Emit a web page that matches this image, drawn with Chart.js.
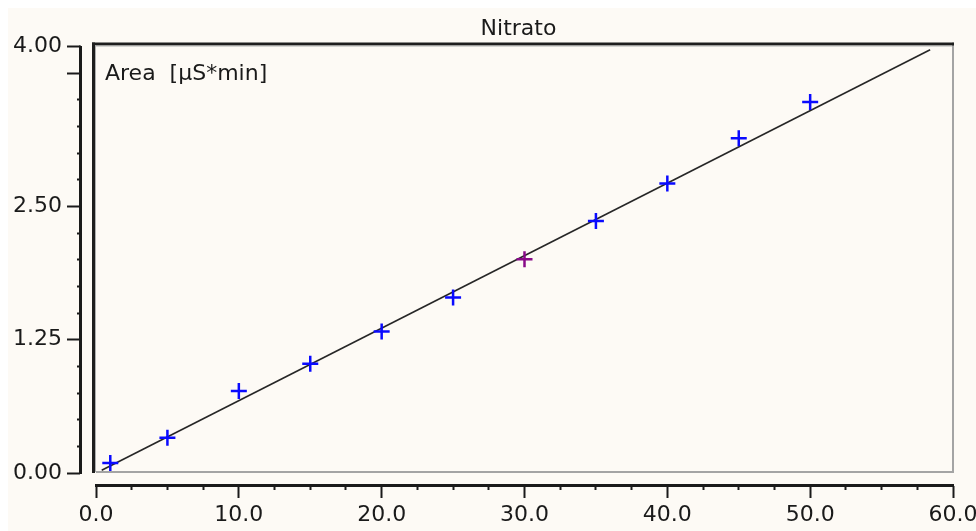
<!DOCTYPE html>
<html>
<head>
<meta charset="utf-8">
<script src="https://cdn.jsdelivr.net/npm/chart.js@4/dist/chart.umd.min.js"></script>
<style>
  html, body { margin: 0; padding: 0; background: #ffffff; }
  #c { display: block; }
</style>
</head>
<body>
<canvas id="c" width="976" height="531"></canvas>
<script>
// ---- chart content ----
const chartTitle = 'Nitrato';
const yAxisCaption = 'Area  [µS*min]';

// calibration standards (concentration) and measured peak area
const concentrations = [1, 5, 10, 15, 20, 25, 30, 35, 40, 45, 50];
const areas = [0.094, 0.330, 0.770, 1.025, 1.327, 1.647, 2.004, 2.363, 2.715, 3.140, 3.480];
const highlightedConcentration = 30;

// calibration (fit) line end points
const fitLineX = [0.4, 58.4];
const fitLineY = [0.025, 3.97];

// axes
const xRange = [0, 60];
const yRange = [0, 4];
const xMinorStep = 2.5;
const yMinorStep = 0.25;
const xLabelValues = [0, 10, 20, 30, 40, 50, 60];
const yLabelValues = [0, 1.25, 2.5, 4.0];
const yMajorValues = [0, 1.25, 2.5, 3.75, 4.0];

const has = (arr, v) => arr.some(a => Math.abs(a - v) < 1e-9);

const INK = '#1a1a1a';
const FONT = "'DejaVu Sans', sans-serif";

const framePlugin = {
  id: 'frame',
  beforeDraw(chart) {
    const { ctx, width, height } = chart;
    ctx.save();
    ctx.fillStyle = '#ffffff';
    ctx.fillRect(0, 0, width, height);
    ctx.fillStyle = '#fdfaf5';
    ctx.fillRect(8, 8, width - 8, height - 8);
    ctx.restore();
  },
  beforeDatasetsDraw(chart) {
    const { ctx, chartArea: a } = chart;
    ctx.save();
    // light (lower/right) edges of the sunken plot box
    ctx.fillStyle = '#a4a4a4';
    ctx.fillRect(a.right - 1, a.top - 4, 2, a.bottom - a.top + 4);
    ctx.fillRect(a.left, a.bottom - 2, a.right - a.left + 1, 2);
    // dark (upper/left) edges
    ctx.fillStyle = '#1e1e1e';
    ctx.fillRect(a.left - 4, a.top - 4, 3, a.bottom - a.top + 4);
    ctx.fillRect(a.left - 4, a.top - 4, a.right - a.left + 5, 3);
    ctx.fillStyle = '#b0b0b0';
    ctx.fillRect(a.left - 1, a.top - 1, a.right - a.left, 1);
    ctx.fillRect(a.left - 1, a.top - 1, 1, a.bottom - a.top);
    // axis lines (spine of the offset axes)
    const ys = chart.scales.y, xs = chart.scales.x;
    ctx.fillStyle = INK;
    ctx.fillRect(ys.right - 2, ys.top - 1, 2, ys.bottom - ys.top + 2);
    ctx.fillRect(xs.left - 1, xs.top, xs.right - xs.left + 2, 2);
    // title and axis caption
    ctx.fillStyle = INK;
    ctx.textBaseline = 'alphabetic';
    ctx.textAlign = 'center';
    ctx.font = '22px ' + FONT;
    ctx.fillText(chartTitle, (a.left + a.right) / 2 - 6, 35);
    ctx.textAlign = 'left';
    ctx.font = '22px ' + FONT;
    ctx.fillText(yAxisCaption, a.left + 9, a.top + 33.5);
    ctx.restore();
  }
};

const points = concentrations.map((c, i) => ({ x: c, y: areas[i] }));
const fitLine = fitLineX.map((x, i) => ({ x, y: fitLineY[i] }));

new Chart(document.getElementById('c'), {
  type: 'scatter',
  data: {
    datasets: [
      {
        type: 'line',
        label: 'Calibration',
        data: fitLine,
        borderColor: '#262626',
        borderWidth: 1.6,
        pointRadius: 0,
        fill: false,
        clip: false,
        order: 2
      },
      {
        type: 'scatter',
        label: 'Standards',
        data: points,
        pointStyle: 'cross',
        pointRadius: 8,
        pointHoverRadius: 8,
        pointBorderWidth: 2.5,
        pointBorderColor: ctx => (ctx.raw && ctx.raw.x === highlightedConcentration) ? '#880a88' : '#0a0aff',
        pointBackgroundColor: 'transparent',
        clip: false,
        order: 1
      }
    ]
  },
  options: {
    responsive: false,
    devicePixelRatio: 1,
    animation: false,
    events: [],
    layout: { padding: { top: 46.5, right: 23, bottom: 0, left: 0 } },
    plugins: {
      legend: { display: false },
      title: { display: false },
      tooltip: { enabled: false }
    },
    scales: {
      x: {
        type: 'linear',
        position: 'bottom',
        weight: 1,
        min: xRange[0],
        max: xRange[1],
        grid: {
          display: true,
          drawOnChartArea: false,
          drawTicks: true,
          tickLength: 13,
          tickWidth: 2,
          tickColor: INK,
          tickBorderDash: ctx => has(xLabelValues, ctx.tick.value) ? [] : [4, 100]
        },
        border: { display: true, color: INK, width: 2 },
        ticks: {
          stepSize: xMinorStep,
          autoSkip: false,
          maxRotation: 0,
          padding: 4,
          color: INK,
          font: { family: FONT, size: 22 },
          callback: v => has(xLabelValues, v) ? Number(v).toFixed(1) : ''
        },
        afterFit: s => { s.height = 46; s.paddingLeft = 0; s.paddingRight = 0; }
      },
      xGap: {
        type: 'linear',
        axis: 'x',
        position: 'bottom',
        weight: 0,
        min: 0, max: 1,
        grid: { display: false },
        border: { display: false },
        ticks: { display: false },
        afterFit: s => { s.height = 12; s.paddingLeft = 0; s.paddingRight = 0; }
      },
      y: {
        type: 'linear',
        position: 'left',
        weight: 1,
        min: yRange[0],
        max: yRange[1],
        grid: {
          display: true,
          drawOnChartArea: false,
          drawTicks: true,
          tickLength: 14,
          tickWidth: 2,
          tickColor: INK,
          tickBorderDash: ctx => has(yMajorValues, ctx.tick.value) ? [] : [0, 10, 4, 100]
        },
        border: { display: true, color: INK, width: 2 },
        ticks: {
          stepSize: yMinorStep,
          autoSkip: false,
          padding: 5,
          color: INK,
          font: { family: FONT, size: 22 },
          callback: v => has(yLabelValues, v) ? Number(v).toFixed(2) : ''
        },
        afterFit: s => { s.width = 81; s.paddingTop = 0; s.paddingBottom = 0; }
      },
      yGap: {
        type: 'linear',
        axis: 'y',
        position: 'left',
        weight: 0,
        min: 0, max: 1,
        grid: { display: false },
        border: { display: false },
        ticks: { display: false },
        afterFit: s => { s.width = 15; s.paddingTop = 0; s.paddingBottom = 0; }
      }
    }
  },
  plugins: [framePlugin]
});
</script>
</body>
</html>
